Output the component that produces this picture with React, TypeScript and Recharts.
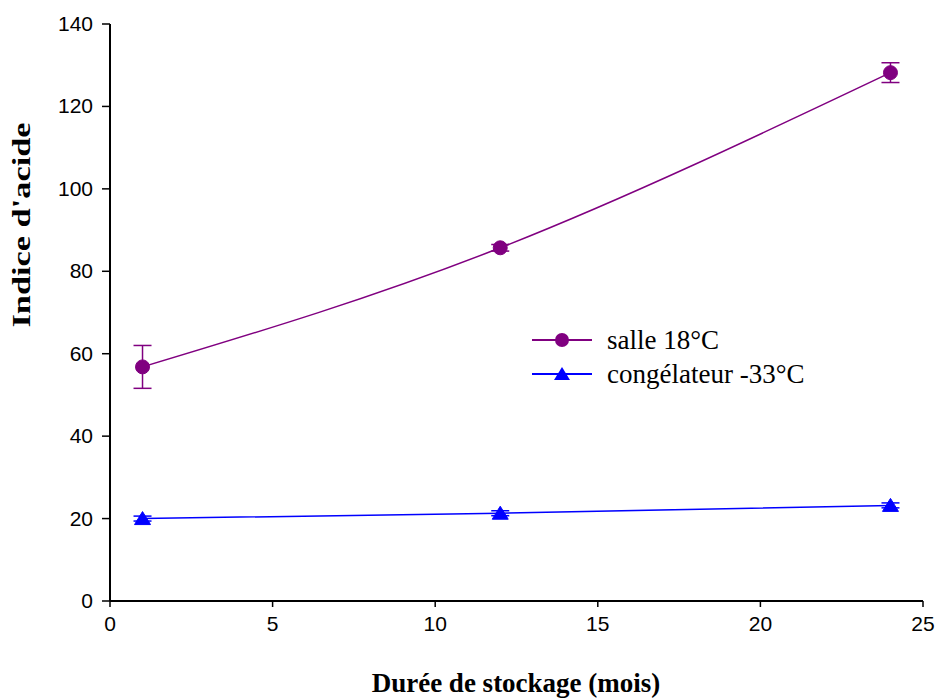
import { CartesianGrid, ErrorBar, Line, LineChart, XAxis, YAxis } from 'recharts';

const months = [1, 12, 24];
const salle = [56.8, 85.7, 128.2];
const salleErr = [5.2, 0.8, 2.4];
const congel = [20.0, 21.3, 23.2];
const congelErr = [0.6, 0.6, 0.6];
const xTicks = [0, 5, 10, 15, 20, 25];
const yTicks = [0, 20, 40, 60, 80, 100, 120, 140];

const PURPLE = '#800080';
const BLUE = '#0000FF';

const data = months.map((m, i) => ({
  mois: m,
  salle: salle[i],
  salleErr: salleErr[i],
  congel: congel[i],
  congelErr: congelErr[i],
}));

const sans = '"Liberation Sans", Arial, sans-serif';
const serif = '"Liberation Serif", "Times New Roman", serif';

function XTick(props: any) {
  const { x, y, payload } = props;
  return (
    <text x={x} y={y + 22} textAnchor="middle" fontFamily={sans} fontSize={21} fill="#000">
      {payload.value}
    </text>
  );
}

function YTick(props: any) {
  const { x, y, payload } = props;
  return (
    <text x={x - 3} y={y + 7} textAnchor="end" fontFamily={sans} fontSize={21} fill="#000">
      {payload.value}
    </text>
  );
}

function Triangle(props: any) {
  const { cx, cy } = props;
  if (cx == null || cy == null) return null;
  return <path d={`M${cx},${cy - 7} L${cx + 8},${cy + 6} L${cx - 8},${cy + 6} Z`} fill={BLUE} stroke={BLUE} />;
}

function LegendRow({ color, label, tri }: { color: string; label: string; tri?: boolean }) {
  return (
    <div style={{ display: 'flex', alignItems: 'center', height: 34 }}>
      <svg width={77} height={20}>
        <line x1={2} y1={10} x2={62} y2={10} stroke={color} strokeWidth={2} />
        {tri ? (
          <path d="M32,3 L40,16 L24,16 Z" fill={color} />
        ) : (
          <circle cx={32} cy={10} r={7} fill={color} />
        )}
      </svg>
      <span>{label}</span>
    </div>
  );
}

export default function App() {
  return (
    <div style={{ position: 'absolute', left: 0, top: 0, width: 936, height: 698, background: '#fff' }}>
      <LineChart width={936} height={698} data={data} margin={{ top: 24, right: 13, bottom: 37, left: 50 }}>
        <CartesianGrid stroke="none" />
        <XAxis
          type="number"
          dataKey="mois"
          domain={[0, 25]}
          ticks={xTicks}
          height={60}
          tick={<XTick />}
          tickSize={6}
          tickMargin={2}
          axisLine={{ stroke: '#000', strokeWidth: 2 }}
          tickLine={{ stroke: '#000', strokeWidth: 1.5 }}
        />
        <YAxis
          type="number"
          domain={[0, 140]}
          ticks={yTicks}
          width={60}
          tick={<YTick />}
          tickSize={8}
          tickMargin={6}
          axisLine={{ stroke: '#000', strokeWidth: 2 }}
          tickLine={{ stroke: '#000', strokeWidth: 1.5 }}
        />
        <Line
          type="natural"
          dataKey="salle"
          stroke={PURPLE}
          strokeWidth={1.5}
          dot={{ r: 7, fill: PURPLE, stroke: PURPLE, strokeWidth: 1 }}
          activeDot={false}
          isAnimationActive={false}
        >
          <ErrorBar dataKey="salleErr" direction="y" width={9} stroke={PURPLE} strokeWidth={1.5} isAnimationActive={false} />
        </Line>
        <Line
          type="natural"
          dataKey="congel"
          stroke={BLUE}
          strokeWidth={1.5}
          dot={<Triangle />}
          activeDot={false}
          isAnimationActive={false}
        >
          <ErrorBar dataKey="congelErr" direction="y" width={9} stroke={BLUE} strokeWidth={1.5} isAnimationActive={false} />
        </Line>
      </LineChart>
      <div
        style={{
          position: 'absolute',
          left: 530,
          top: 323,
          fontFamily: serif,
          fontSize: 27,
          color: '#000',
        }}
      >
        <LegendRow color={PURPLE} label="salle 18°C" />
        <LegendRow color={BLUE} label="congélateur -33°C" tri />
      </div>
      <div
        style={{
          position: 'absolute',
          left: 516,
          top: 683,
          transform: 'translate(-50%, -50%)',
          whiteSpace: 'nowrap',
          fontFamily: serif,
          fontWeight: 'bold',
          fontSize: 27,
          color: '#000',
        }}
      >
        Durée de stockage (mois)
      </div>
      <div
        style={{
          position: 'absolute',
          left: 22,
          top: 225,
          transform: 'translate(-50%, -50%) rotate(-90deg) scaleX(1.32)',
          whiteSpace: 'nowrap',
          fontFamily: serif,
          fontWeight: 'bold',
          fontSize: 26,
          color: '#000',
        }}
      >
        Indice d'acide
      </div>
    </div>
  );
}
